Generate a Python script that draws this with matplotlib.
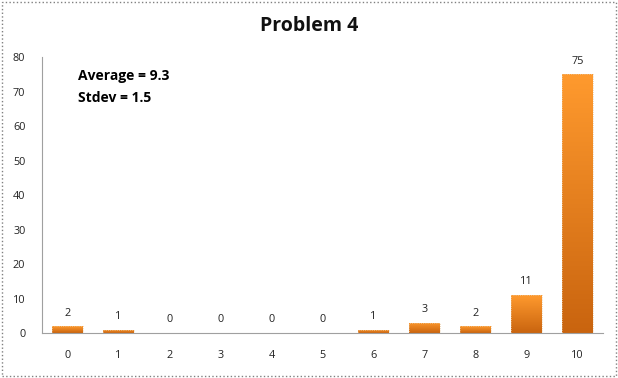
import matplotlib
matplotlib.use("Agg")
import matplotlib.pyplot as plt
import numpy as np
from matplotlib.colors import LinearSegmentedColormap
from matplotlib.patches import Rectangle

categories = ["0", "1", "2", "3", "4", "5", "6", "7", "8", "9", "10"]
counts = [2, 1, 0, 0, 0, 0, 1, 3, 2, 11, 75]
title = "Problem 4"
stats_text = ["Average = 9.3", "Stdev = 1.5"]

plt.rcParams['font.family'] = ['Open Sans', 'DejaVu Sans']

fig = plt.figure(figsize=(6.18, 3.78), dpi=100)
ax = fig.add_axes([0.068, 0.119, 0.908, 0.730])

x = np.arange(len(categories))
bars = ax.bar(x, counts, width=0.6, color="none", edgecolor="none")

cmap = LinearSegmentedColormap.from_list("og", ["#C9640F", "#FF9A2E"])
grad = np.linspace(0, 1, 256).reshape(-1, 1)
for b in bars:
    h = b.get_height()
    if h <= 0:
        continue
    x0 = b.get_x()
    w = b.get_width()
    im = ax.imshow(grad, cmap=cmap, origin="lower", aspect="auto",
                   extent=[x0, x0 + w, 0, h], zorder=2)
    im.set_clip_path(b)
    ax.add_patch(Rectangle((x0, 0), w, h, fill=False, edgecolor="#E8C8A0",
                           linewidth=0.6, linestyle=":", zorder=3))

for xi, v in zip(x, counts):
    ax.text(xi, v + 2.2, str(v), ha="center", va="bottom", fontsize=7.8,
            color="#222222")

ax.set_xlim(-0.5, len(categories) - 0.5)
ax.set_ylim(0, 80)
ax.set_yticks(np.arange(0, 81, 10))
ax.set_xticks(x)
ax.set_xticklabels(categories)
ax.tick_params(axis="both", length=0, labelsize=7.8, colors="#222222")
ax.tick_params(axis="x", pad=12)
ax.tick_params(axis="y", pad=12)
for s in ["top", "right"]:
    ax.spines[s].set_visible(False)
for s in ["left", "bottom"]:
    ax.spines[s].set_color("#A0A0A0")
    ax.spines[s].set_linewidth(0.8)

fig.text(0.5, 0.93, title, ha="center", va="center", fontsize=14,
         fontweight="bold", color="#111111")
ax.text(0.065, 0.93, stats_text[0], transform=ax.transAxes, fontsize=10,
        fontweight="bold", va="center", ha="left")
ax.text(0.065, 0.85, stats_text[1], transform=ax.transAxes, fontsize=10,
        fontweight="bold", va="center", ha="left")

border = Rectangle((0.003, 0.004), 0.993, 0.99, transform=fig.transFigure,
                   fill=False, edgecolor="#808080", linestyle=":", linewidth=1.0)
fig.add_artist(border)

fig.savefig("out.png", dpi=100)
